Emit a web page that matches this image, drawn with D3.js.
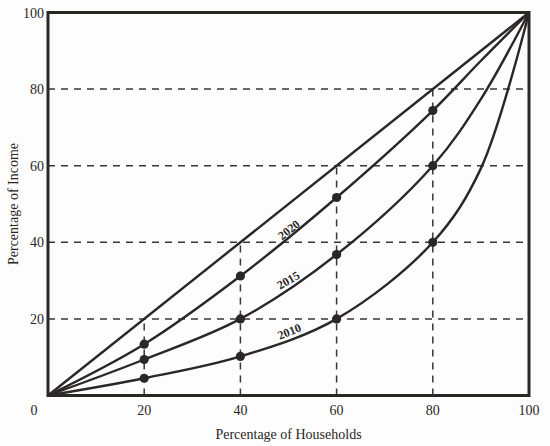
<!DOCTYPE html>
<html>
<head>
<meta charset="utf-8">
<script src="https://cdn.jsdelivr.net/npm/d3@7"></script>
<style>
  body { margin: 0; background: #fdfdfd; }
  svg { display: block; }
  text { font-family: "Liberation Serif", "DejaVu Serif", serif; fill: #2a2626; }
</style>
</head>
<body>
<div id="chart"></div>
<script>
(function(){
  var W = 550, H = 446;
  var margin = {left: 48, right: 21, top: 12.5, bottom: 50.5};

  // data (dots only at the 20-steps)
  var households = [0, 20, 40, 60, 80, 90, 100];
  var years = ["2020", "2015", "2010"];
  var income2020 = [0, 13.4, 31.2, 51.7, 74.4, 87.4, 100];
  var income2015 = [0, 9.4, 20, 36.8, 60, 77.4, 100];
  var income2010 = [0, 4.5, 10.2, 20, 40, 59.3, 100];
  var dotted = [20, 40, 60, 80];
  var ticks = [20, 40, 60, 80, 100];
  var guides = [20, 40, 60, 80];

  var series = [income2020, income2015, income2010];

  var svg = d3.select("#chart").append("svg")
              .attr("width", W)
              .attr("height", H);

  var x = d3.scaleLinear().domain([0, 100]).range([margin.left, W - margin.right]);
  var y = d3.scaleLinear().domain([0, 100]).range([H - margin.bottom, margin.top]);

  var ink = "#2b2727";

  // dashed guides
  var grid = svg.append("g")
                .attr("stroke", "#3d3636")
                .attr("stroke-width", 1.5)
                .attr("stroke-dasharray", "7,6");
  grid.selectAll("line.h")
      .data(guides)
      .enter()
      .append("line")
      .attr("x1", x(0))
      .attr("x2", x(100))
      .attr("y1", function(d){ return y(d); })
      .attr("y2", function(d){ return y(d); });
  grid.selectAll("line.v")
      .data(guides)
      .enter()
      .append("line")
      .attr("x1", function(d){ return x(d); })
      .attr("x2", function(d){ return x(d); })
      .attr("y1", y(0))
      .attr("y2", function(d){ return y(d); });

  // equality line
  svg.append("line")
     .attr("x1", x(0)).attr("y1", y(0))
     .attr("x2", x(100)).attr("y2", y(100))
     .attr("stroke", ink)
     .attr("stroke-width", 2.4);

  // curves
  var line = d3.line()
               .x(function(d, i){ return x(households[i]); })
               .y(function(d){ return y(d); })
               .curve(d3.curveCatmullRom.alpha(0.5));

  svg.selectAll("path.curve")
     .data(series)
     .enter()
     .append("path")
     .attr("class", "curve")
     .attr("d", line)
     .attr("fill", "none")
     .attr("stroke", ink)
     .attr("stroke-width", 2.4);

  // dots
  series.forEach(function(s){
    var pts = s.map(function(v, i){ return [households[i], v]; })
               .filter(function(p){ return dotted.indexOf(p[0]) >= 0; });
    svg.selectAll(null)
       .data(pts)
       .enter()
       .append("circle")
       .attr("cx", function(p){ return x(p[0]); })
       .attr("cy", function(p){ return y(p[1]); })
       .attr("r", 4.6)
       .attr("fill", ink);
  });

  // curve labels: [x, y, angle]
  var labelPos = [[50.6, 42.4, -38], [50.4, 29.2, -30], [50.5, 15.7, -22]];
  svg.selectAll("text.year")
     .data(years)
     .enter()
     .append("text")
     .attr("class", "year")
     .attr("text-anchor", "middle")
     .attr("font-weight", "bold")
     .attr("font-size", 12)
     .attr("transform", function(d, i){
       var p = labelPos[i];
       return "translate(" + x(p[0]) + "," + y(p[1]) + ") rotate(" + p[2] + ")";
     })
     .text(function(d){ return d; });

  // frame
  svg.append("rect")
     .attr("x", x(0)).attr("y", y(100))
     .attr("width", x(100) - x(0))
     .attr("height", y(0) - y(100))
     .attr("fill", "none")
     .attr("stroke", ink)
     .attr("stroke-width", 3);

  // tick labels
  svg.selectAll("text.xt")
     .data(ticks)
     .enter()
     .append("text")
     .attr("text-anchor", "middle")
     .attr("font-size", 14)
     .attr("x", function(d){ return x(d); })
     .attr("y", 415)
     .text(function(d){ return d; });
  svg.append("text")
     .attr("text-anchor", "middle")
     .attr("font-size", 14)
     .attr("x", 34)
     .attr("y", 415)
     .text("0");
  svg.selectAll("text.yt")
     .data(ticks)
     .enter()
     .append("text")
     .attr("text-anchor", "end")
     .attr("font-size", 14)
     .attr("x", 44)
     .attr("y", function(d){ return y(d) + 5; })
     .text(function(d){ return d; });

  // axis titles
  svg.append("text")
     .attr("text-anchor", "middle")
     .attr("font-size", 14)
     .attr("x", x(50))
     .attr("y", 439)
     .text("Percentage of Households");
  svg.append("text")
     .attr("text-anchor", "middle")
     .attr("font-size", 14)
     .attr("transform", "translate(18," + y(50) + ") rotate(-90)")
     .text("Percentage of Income");
})();
</script>
</body>
</html>
